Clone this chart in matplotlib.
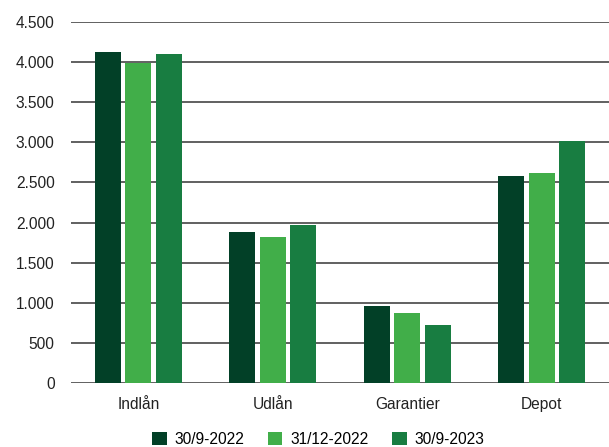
import numpy as np
import matplotlib.pyplot as plt

plt.rcParams['font.family'] = ['Liberation Sans', 'DejaVu Sans']

categories = ['Indlån', 'Udlån', 'Garantier', 'Depot']
series = ['30/9-2022', '31/12-2022', '30/9-2023']
values = [
    [4125, 1883, 960, 2580],
    [3990, 1820, 873, 2615],
    [4100, 1970, 723, 3015],
]
colors = ['#024027', '#41ae49', '#187d41']
yticks = np.arange(0, 4501, 500)
ytick_labels = ['0', '500', '1.000', '1.500', '2.000', '2.500', '3.000', '3.500', '4.000', '4.500']

fig = plt.figure(figsize=(6.09, 4.47), dpi=100)
ax = fig.add_axes([0.117, 0.143, 0.883, 0.808])

x = np.arange(len(categories))
w = 0.193
step = 0.227
for i, (name, vals) in enumerate(zip(series, values)):
    ax.bar(x + (i - 1) * step, vals, width=w, color=colors[i], label=name, zorder=3)

ax.set_ylim(0, 4500)
ax.set_xlim(-0.5, 3.5)
ax.set_yticks(yticks)
ax.set_yticklabels(ytick_labels)
ax.set_xticks(x)
ax.set_xticklabels(categories)
ax.yaxis.grid(True, color='#606060', linewidth=1.4, zorder=0)
for s in ax.spines.values():
    s.set_visible(False)
ax.tick_params(axis='both', length=0, labelsize=11.2, colors='#222222')
ax.tick_params(axis='y', pad=12)
ax.tick_params(axis='x', pad=10)

ax.legend(loc='upper center', bbox_to_anchor=(0.459, -0.117), ncol=3, frameon=False,
          fontsize=11.2, handlelength=0.95, handleheight=0.95, handletextpad=0.5,
          columnspacing=1.5, borderaxespad=0)

fig.savefig('out.png', dpi=100)
